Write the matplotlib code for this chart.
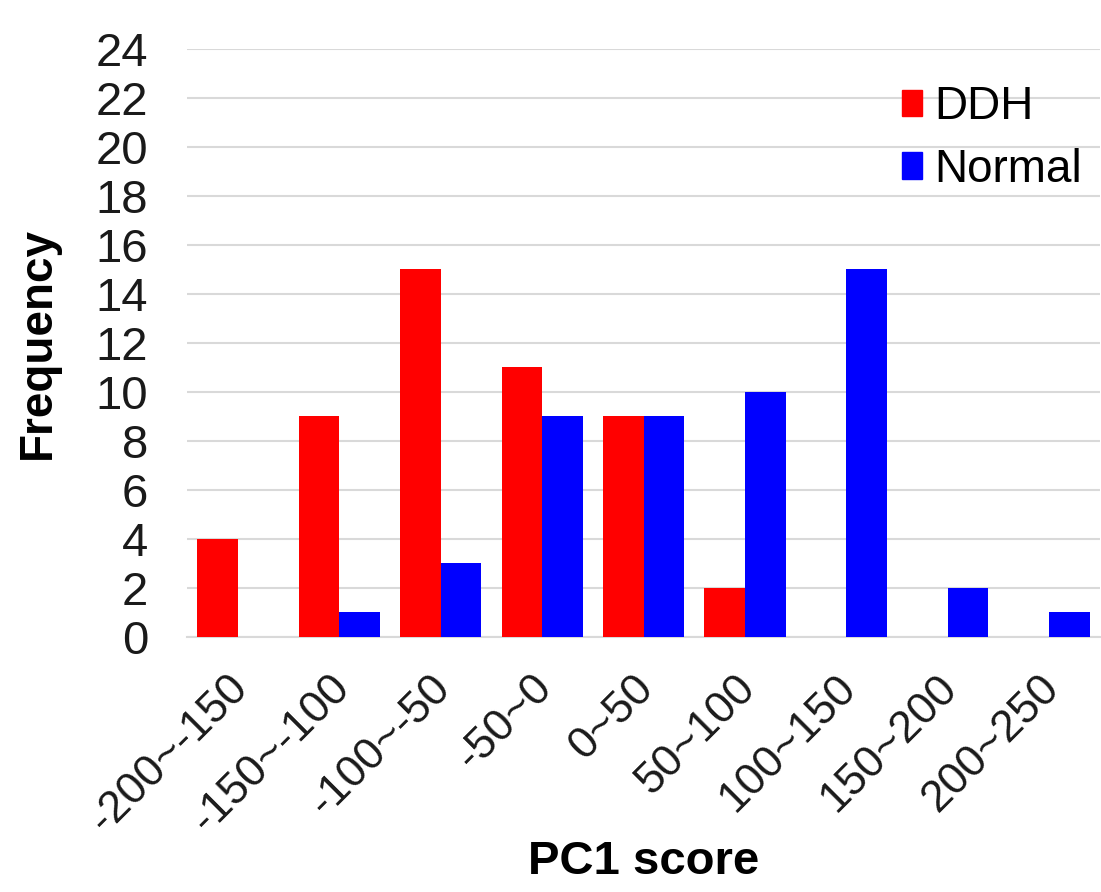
import numpy as np
import matplotlib.pyplot as plt
from matplotlib.patches import Patch
from matplotlib.transforms import ScaledTranslation

plt.rcParams['font.family'] = ['Liberation Sans', 'DejaVu Sans']

categories = ['-200~-150', '-150~-100', '-100~-50', '-50~0', '0~50',
              '50~100', '100~150', '150~200', '200~250']
ddh = [4, 9, 15, 11, 9, 2, 0, 0, 0]
normal = [0, 1, 3, 9, 9, 10, 15, 2, 1]
yticks = list(range(0, 25, 2))

fig = plt.figure(figsize=(11.01, 8.92), dpi=100)
ax = fig.add_axes([0.170, 0.286, 0.829, 0.659])

x = np.arange(len(categories))
w = 0.4
ax.bar(x - w / 2, ddh, width=w, color='#ff0000', zorder=3)
ax.bar(x + w / 2, normal, width=w, color='#0000ff', zorder=3)

ax.set_xlim(-0.5, len(categories) - 0.5)
ax.set_ylim(0, 24)
ax.set_yticks(yticks)
ax.yaxis.grid(True, color='#d9d9d9', linewidth=1.5, zorder=0)
for s in ['top', 'right', 'left']:
    ax.spines[s].set_visible(False)
ax.spines['bottom'].set_color('#d9d9d9')
ax.spines['bottom'].set_linewidth(1.5)
ax.tick_params(axis='y', length=0, pad=28, labelsize=34, labelcolor='#1a1a1a')
ax.tick_params(axis='x', length=0, pad=14, labelsize=32, labelcolor='#1a1a1a')
ax.set_xticks(x)
ax.set_xticklabels(categories, rotation=45, ha='right', rotation_mode='anchor')
shift = ScaledTranslation(-0.11, -0.11, fig.dpi_scale_trans)
for lab in ax.get_xticklabels():
    lab.set_transform(lab.get_transform() + shift)

ax.set_ylabel('Frequency', fontsize=33, fontweight='bold', labelpad=26)
ax.set_xlabel('PC1 score', fontsize=34, fontweight='bold')
ax.xaxis.set_label_coords(0.5, -0.345)

handles = [Patch(color='#ff0000', label='DDH'), Patch(color='#0000ff', label='Normal')]
ax.legend(handles=handles, loc='upper right', bbox_to_anchor=(1.01, 0.985),
          frameon=False, fontsize=33, handlelength=0.45, handleheight=0.5,
          handletextpad=0.25, labelspacing=0.4, borderaxespad=0.2)

fig.savefig('out.png', dpi=100)
